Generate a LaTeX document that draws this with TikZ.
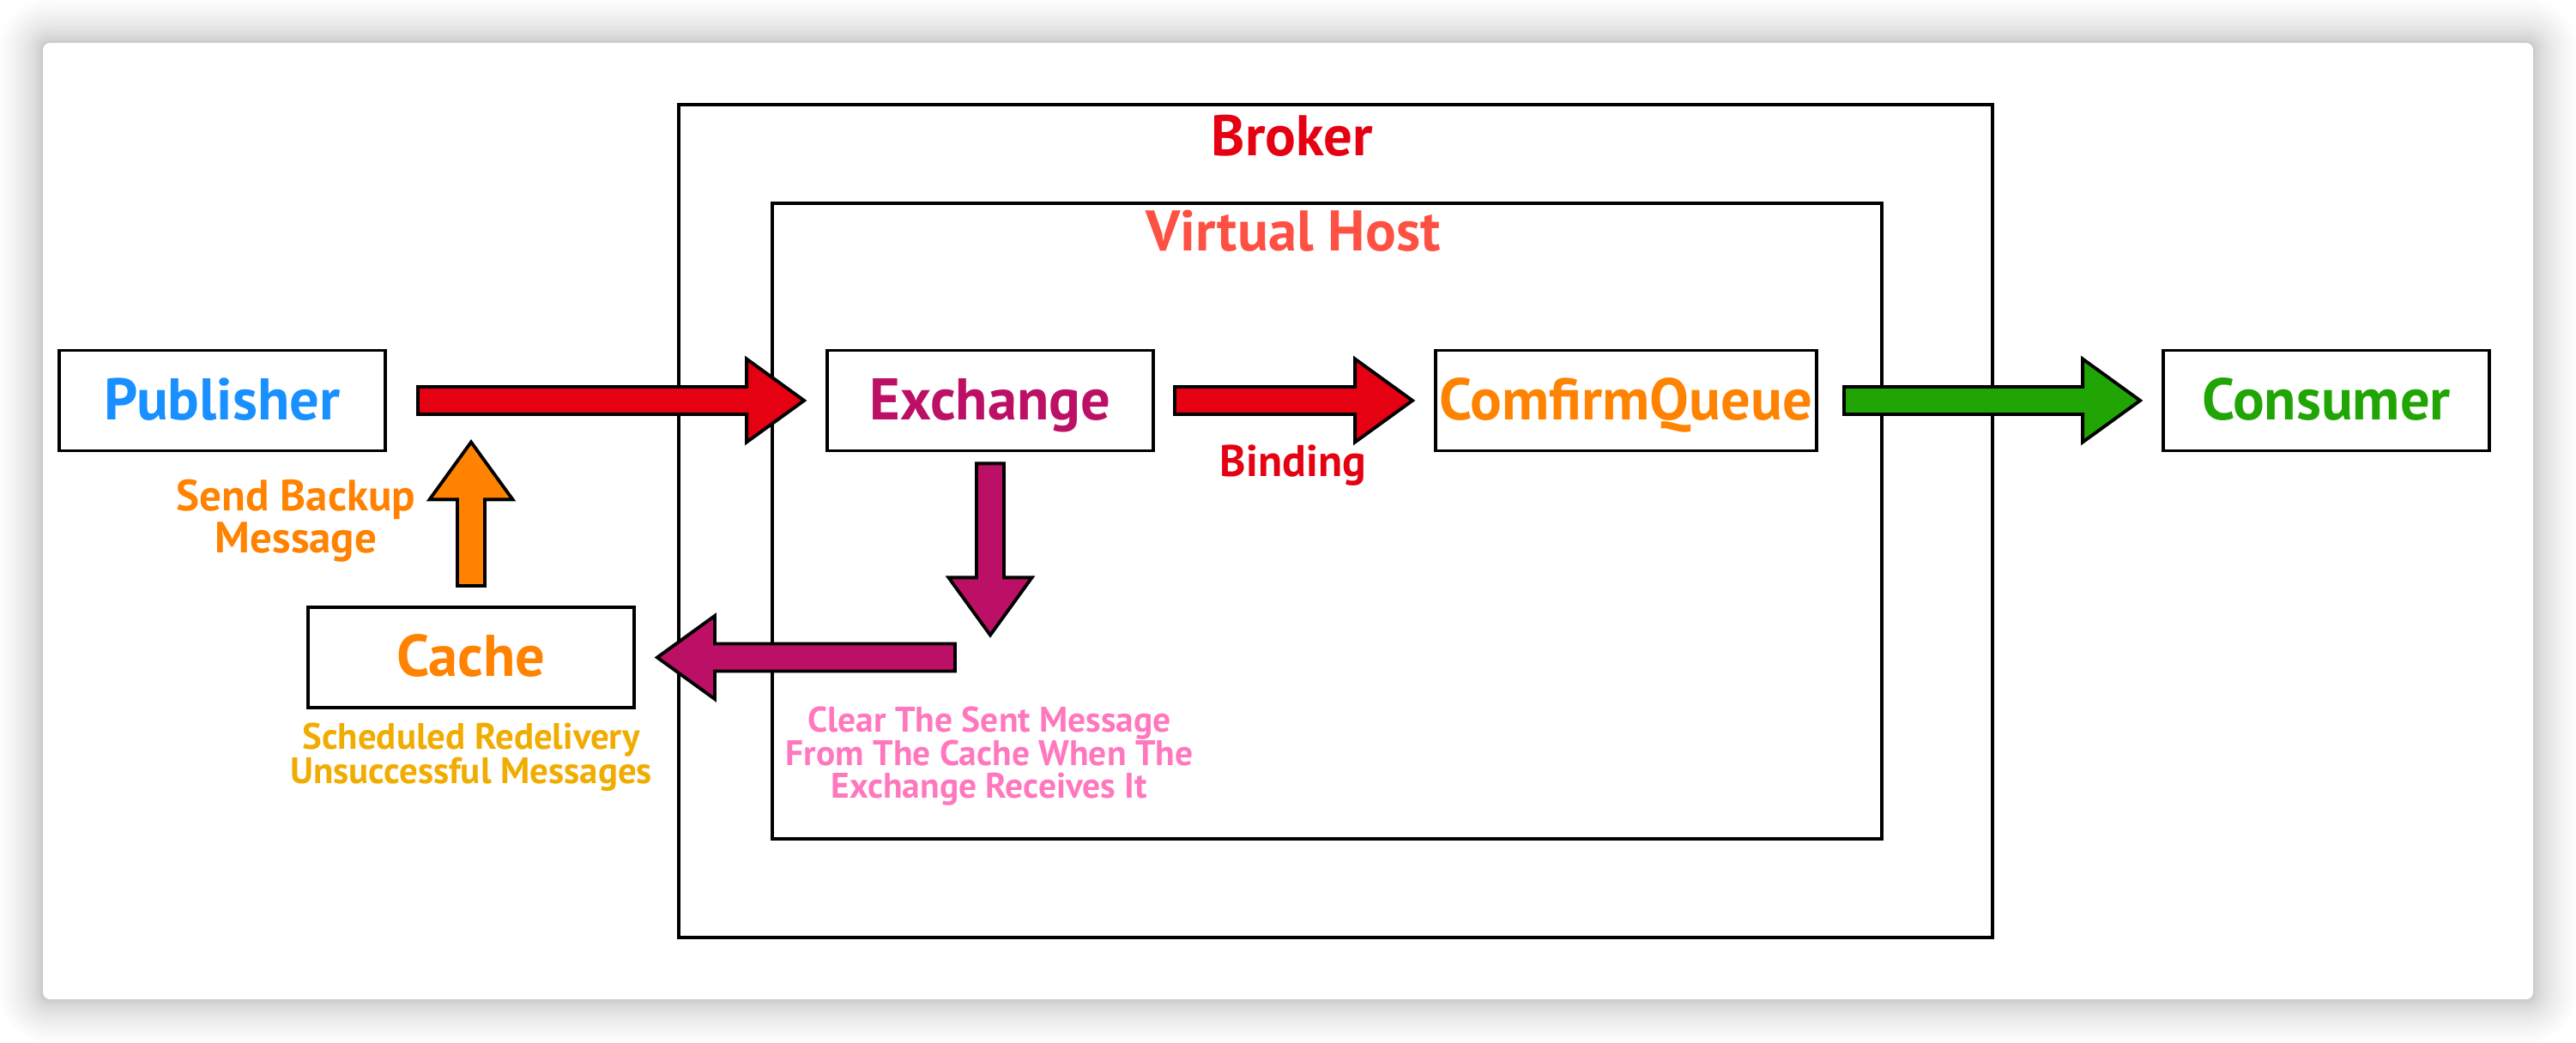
\documentclass[tikz,border=0pt]{standalone}
\usepackage{fontspec}
\setmainfont{PT Sans}
\definecolor{mqred}{RGB}{229,0,18}
\definecolor{mqsalmon}{RGB}{255,80,68}
\definecolor{mqblue}{RGB}{24,144,255}
\definecolor{mqpurple}{RGB}{188,16,102}
\definecolor{mqorange}{RGB}{255,130,0}
\definecolor{mqgreen}{RGB}{32,165,5}
\definecolor{mqgold}{RGB}{240,172,0}
\definecolor{mqpink}{RGB}{255,120,190}
\usetikzlibrary{calc,positioning}

\begin{document}
\begin{tikzpicture}[every node/.style={font=\bfseries},
  box/.style={draw=black, line width=1.1pt, fill=white, minimum width=3.8cm, minimum height=1.17cm, inner sep=0pt,
    text height=12.8pt, text depth=0pt, font=\bfseries\fontsize{19.5}{20}\selectfont},
  frame/.style={draw=black, line width=0.9pt, inner sep=0pt},
  txt/.style={inner sep=0pt, align=center},
  fat/.style={draw=black, line width=1.1pt, line join=miter, fill=#1, to path={
    let \p1=($(\tikztotarget)!0.67cm!(\tikztostart)$) in
    ($(\tikztostart)!0.16cm!90:(\tikztotarget)$) -- ($(\p1)!0.16cm!90:(\tikztotarget)$)
    -- ($(\p1)!0.485cm!90:(\tikztotarget)$) -- (\tikztotarget)
    -- ($(\p1)!0.485cm!-90:(\tikztotarget)$) -- ($(\p1)!0.16cm!-90:(\tikztotarget)$)
    -- ($(\tikztostart)!0.16cm!-90:(\tikztotarget)$) -- cycle}}]
\useasboundingbox (0,0) rectangle (30.02,-12.16);
% card and its shadow
\fill[white] (0,0) rectangle (30.02,-12.16);
\foreach \i [evaluate=\i as \e using 0.5*(\i/20)^2] in {1,...,20}
  \fill[black, opacity=0.01, rounded corners=0.08cm+\e cm]
    (0.50-\e,-0.50+\e) rectangle (29.52+\e,-11.65-\e);
\fill[white, rounded corners=0.08cm] (0.50,-0.50) rectangle (29.52,-11.65);

% broker and virtual host
\node[frame, minimum width=15.31cm, minimum height=9.71cm] (broker) at (15.565,-6.075) {};
\node[frame, minimum width=12.93cm, minimum height=7.41cm] (vhost) at (15.465,-6.075) {};
\node[txt, anchor=base, text=mqred, font=\bfseries\fontsize{19}{20}\selectfont] (brokerlbl) at (15.06,-1.82) {Broker};
\node[txt, anchor=base, text=mqsalmon, font=\bfseries\fontsize{19}{20}\selectfont] (vhostlbl) at (15.07,-2.93) {Virtual Host};

% boxes
\node[box, text=mqblue] (pub) at (2.59,-4.67) {Publisher};
\node[box, text=mqpurple] (exch) at (11.54,-4.67) {Exchange};
\node[box, minimum width=4.44cm, text=mqorange] (queue) at (18.95,-4.67) {ComfirmQueue};
\node[box, text=mqgreen] (cons) at (27.11,-4.67) {Consumer};
\node[box, text=mqorange] (cache) at (5.49,-7.665) {Cache};

% arrows
\coordinate (drop) at ([yshift=-2.13cm]exch.south);
\coordinate (back) at ($(cache.east -| drop)+(-0.41,0)$);
\coordinate (up) at ($(cache.north |- pub.south)+(0,0.12)$);
\draw[fat=mqred] ([xshift=0.36cm]pub.east) to ([xshift=-0.25cm]exch.west);
\draw[fat=mqred] ([xshift=0.23cm]exch.east) to ([xshift=-0.25cm]queue.west);
\draw[fat=mqgreen] ([xshift=0.30cm]queue.east) to ([xshift=-0.25cm]cons.west);
\draw[fat=mqpurple] ([yshift=-0.13cm]exch.south) to (drop);
\draw[fat=mqpurple] (back) to ([xshift=0.25cm]cache.east);
\draw[fat=mqorange] ([yshift=0.23cm]cache.north) to (up);

% labels
\node[txt, anchor=base, text=mqred, font=\bfseries\fontsize{14.7}{15}\selectfont] (bindlbl) at (15.07,-5.555) {Binding};
\node[txt, anchor=north, text=mqorange, font=\bfseries\fontsize{14.5}{12.6}\selectfont] (sendlbl) at (3.45,-5.58) {Send Backup\\Message};
\node[txt, anchor=north, text=mqgold, font=\bfseries\fontsize{12.2}{11.3}\selectfont] (retrylbl) at (5.49,-8.42) {Scheduled Redelivery\\Unsuccessful Messages};
\node[txt, anchor=north, text=mqpink, font=\bfseries\fontsize{11.8}{11.05}\selectfont] (clearlbl) at (11.53,-8.23) {Clear The Sent Message\\From The Cache When The\\Exchange Receives It};
\end{tikzpicture}
\end{document}
